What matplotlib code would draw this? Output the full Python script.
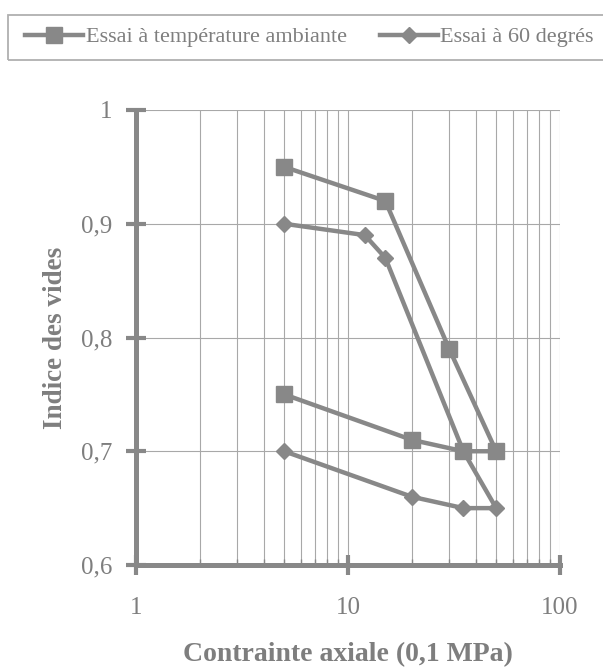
"""Indice des vides vs contrainte axiale: essais à température ambiante et à 60 degrés."""

import matplotlib.pyplot as plt
from matplotlib.patches import Rectangle
from matplotlib.ticker import FixedLocator, LogLocator, NullFormatter

# Essai à température ambiante (chargement puis déchargement)
amb_stress = [5, 15, 30, 50, 35, 20, 5]
amb_void = [0.95, 0.92, 0.79, 0.70, 0.70, 0.71, 0.75]

# Essai à 60 degrés
hot_stress = [5, 12, 15, 35, 50, 35, 20, 5]
hot_void = [0.90, 0.89, 0.87, 0.70, 0.65, 0.65, 0.66, 0.70]

y_ticks = [0.6, 0.7, 0.8, 0.9, 1.0]
y_labels = ["0,6", "0,7", "0,8", "0,9", "1"]
x_ticks = [1, 10, 100]
x_labels = ["1", "10", "100"]

GREY = "#888888"
TEXT = "#7e7e7e"
GRID = "#a8a8a8"

plt.rcParams["font.family"] = ["Liberation Serif", "DejaVu Serif"]

W, H = 603, 667
fig = plt.figure(figsize=(W / 100, H / 100), dpi=100)
ax = fig.add_axes([136 / W, 1 - 565 / H, 424 / W, 455 / H])

ax.plot(amb_stress, amb_void, color=GREY, linewidth=3.2, marker="s",
        markersize=11, markerfacecolor=GREY, markeredgecolor=GREY,
        label="Essai à température ambiante", clip_on=False, zorder=3)
ax.plot(hot_stress, hot_void, color=GREY, linewidth=3.2, marker="D",
        markersize=8.5, markerfacecolor=GREY, markeredgecolor=GREY,
        label="Essai à 60 degrés", clip_on=False, zorder=3)

ax.set_xscale("log")
ax.set_xlim(1, 100)
ax.set_ylim(0.6, 1.0)

ax.xaxis.set_major_locator(FixedLocator(x_ticks))
ax.set_xticklabels(x_labels)
ax.xaxis.set_minor_locator(LogLocator(base=10, subs=range(2, 10)))
ax.xaxis.set_minor_formatter(NullFormatter())
ax.set_yticks(y_ticks)
ax.set_yticklabels(y_labels)

ax.grid(True, which="both", axis="x", color=GRID, linewidth=0.8)
ax.grid(True, which="major", axis="y", color=GRID, linewidth=0.8)
ax.set_axisbelow(True)

for side in ("top", "right"):
    ax.spines[side].set_visible(False)
for side in ("left", "bottom"):
    ax.spines[side].set_color(GREY)
    ax.spines[side].set_linewidth(3.6)

ax.tick_params(axis="y", which="major", direction="inout", length=14.5,
               width=3, color=GREY, labelcolor=TEXT, labelsize=18, pad=10)
ax.tick_params(axis="x", which="major", direction="inout", length=14.5,
               width=3, color=GREY, labelcolor=TEXT, labelsize=18, pad=16)
ax.tick_params(axis="x", which="minor", direction="in", length=4,
               width=1, color=GREY)

ax.set_xlabel("Contrainte axiale (0,1 MPa)", fontsize=20, fontweight="bold",
              color=TEXT, va="center")
ax.xaxis.set_label_coords(0.5, (565 - 655) / 455)
ax.set_ylabel("Indice des vides", fontsize=19.5, fontweight="bold",
              color=TEXT, va="center")
ax.yaxis.set_label_coords((56 - 136) / 424, 0.5)

# legend strip across the top
leg = fig.legend(loc="center left", bbox_to_anchor=(14 / W, 1 - 37 / H),
                 ncol=2, frameon=False, fontsize=16, borderpad=0,
                 handlelength=2.6, handletextpad=0.12, columnspacing=1.5,
                 labelcolor=TEXT)
fig.patches.append(Rectangle((7.5 / W, 1 - 60 / H), 1.05, 45 / H,
                             transform=fig.transFigure, fill=False,
                             edgecolor="#b0b0b0", linewidth=1.3))

fig.savefig("out.png", dpi=100)
